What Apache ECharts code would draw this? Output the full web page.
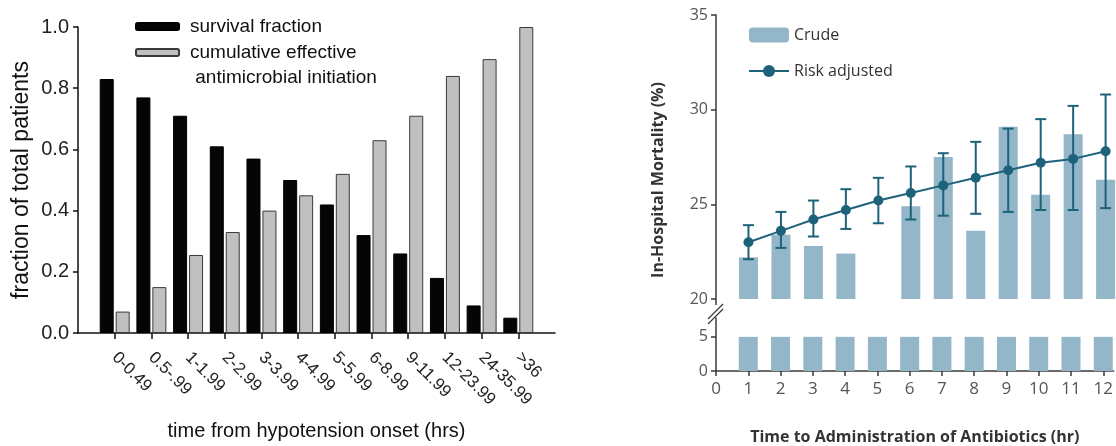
<!DOCTYPE html>
<html>
<head>
<meta charset="utf-8">
<title>Time to antibiotics and mortality</title>
<script src="https://cdn.jsdelivr.net/npm/echarts@6/dist/echarts.min.js"></script>
<style>
  html, body { margin: 0; padding: 0; background: #fff; }
  #chart { width: 1116px; height: 446px; }
</style>
</head>
<body>
<div id="chart"></div>
<script>
// left panel: hypotension onset bins
const onsetBins = ['0-0.49', '0.5-.99', '1-1.99', '2-2.99', '3-3.99', '4-4.99', '5-5.99', '6-8.99', '9-11.99', '12-23.99', '24-35.99', '>36']
const survivalFraction = [0.83, 0.77, 0.71, 0.61, 0.57, 0.5, 0.42, 0.32, 0.26, 0.18, 0.09, 0.05]
const cumulativeInitiation = [0.07, 0.15, 0.255, 0.33, 0.4, 0.45, 0.52, 0.63, 0.71, 0.84, 0.895, 1.0]

// right panel: hours to antibiotics
const hours = [1, 2, 3, 4, 5, 6, 7, 8, 9, 10, 11, 12]
const crudeMortality = [22.2, 23.4, 22.8, 22.4, null, 24.9, 27.5, 23.6, 29.1, 25.5, 28.7, 26.3]
const crudeBelowBreak = [5, 5, 5, 5, 5, 5, 5, 5, 5, 5, 5, 5]
const riskAdjusted = [23.0, 23.6, 24.2, 24.7, 25.2, 25.6, 26.0, 26.4, 26.8, 27.2, 27.4, 27.8]
const riskLow = [22.1, 22.7, 23.3, 23.7, 24.0, 24.2, 24.4, 24.5, 24.6, 24.7, 24.7, 24.8]
const riskHigh = [23.9, 24.6, 25.2, 25.8, 26.4, 27.0, 27.7, 28.3, 29.0, 29.5, 30.2, 30.8]
const hourTicks = [0, 1, 2, 3, 4, 5, 6, 7, 8, 9, 10, 11, 12]
const upperTicks = [20, 25, 30, 35]
const lowerTicks = [0, 5]

const barBlue = '#93b6c8'
const teal = '#1d627a'
const axisGrey = '#3a3a3a'
const leftFont = 'Liberation Sans'
const rightFont = 'Open Sans'

const chart = echarts.init(document.getElementById('chart'))

// padded category list so the first/last bins sit one step in from the axis ends
const leftCats = [''].concat(onsetBins, [''])
const pad = (arr) => [null].concat(arr, [null])

// legend text for the left panel (rich so it can be nudged off the icon)
const legendRich = {
  t: { fontFamily: leftFont, fontSize: 19, color: '#111', lineHeight: 25, padding: [0, 0, 0, 6] },
}

const option = {
  animation: false,
  backgroundColor: '#fff',
  legend: [
    {
      data: ['survival fraction'],
      left: 135, top: 17, padding: 0,
      itemWidth: 43, itemHeight: 7,
      formatter: (name) => '{t|' + name + '}',
      textStyle: { rich: legendRich },
    },
    {
      data: ['cumulative effective antimicrobial initiation'],
      left: 135, top: 18, padding: 0,
      itemWidth: 43, itemHeight: 7,
      // blank first line keeps the icon level with "cumulative effective"
      formatter: () => '{t| }\n{t|cumulative effective}\n{t| antimicrobial initiation}',
      textStyle: { rich: legendRich },
    },
    {
      data: ['Crude', 'Risk adjusted'],
      orient: 'vertical',
      left: 748, top: 27, padding: 0,
      itemWidth: 40, itemHeight: 15, itemGap: 20,
      textStyle: { fontFamily: rightFont, fontSize: 16, color: '#333' },
    },
  ],
  grid: [
    { left: 78, top: 27, width: 477, height: 311 },
    { left: 716, top: 318, right: 0, height: 59 },
    { left: 716, top: 15, right: 0, height: 284 },
  ],
  xAxis: [
    {
      type: 'category', gridIndex: 0, boundaryGap: false, data: leftCats,
      axisLine: { lineStyle: { color: '#111', width: 1.5 } },
      axisTick: { length: 6, interval: (i) => i > 0 && i < leftCats.length - 1, lineStyle: { color: '#111', width: 1.5 } },
      axisLabel: { interval: 0, rotate: -45, margin: 22, fontFamily: leftFont, fontSize: 17, color: '#222' },
      name: 'time from hypotension onset (hrs)', nameLocation: 'middle', nameGap: 88,
      nameTextStyle: { fontFamily: leftFont, fontSize: 20, color: '#111' },
    },
    {
      type: 'value', gridIndex: 1, min: 0, max: 12.32,
      splitLine: { show: false },
      axisLine: { lineStyle: { color: axisGrey, width: 1.5 } },
      axisTick: { length: 5, customValues: hourTicks, lineStyle: { color: axisGrey, width: 1.5 } },
      axisLabel: { customValues: hourTicks, margin: 10, fontFamily: rightFont, fontSize: 17, color: '#555' },
      name: 'Time to Administration of Antibiotics (hr)', nameLocation: 'middle', nameGap: 58,
      nameTextStyle: { fontFamily: rightFont, fontSize: 16, fontWeight: 'bold', color: '#333' },
    },
    { type: 'value', gridIndex: 2, min: 0, max: 12.32, show: false },
  ],
  yAxis: [
    {
      type: 'value', gridIndex: 0, min: 0, max: 1, interval: 0.2,
      splitLine: { show: false },
      axisLine: { show: true, lineStyle: { color: '#111', width: 1.5 } },
      axisTick: { show: true, length: 5, lineStyle: { color: '#111', width: 1.5 } },
      axisLabel: { margin: 9, formatter: (v) => v.toFixed(1), fontFamily: leftFont, fontSize: 20, color: '#222' },
      name: 'fraction of total patients', nameLocation: 'middle', nameGap: 45,
      nameTextStyle: { fontFamily: leftFont, fontSize: 23, color: '#111' },
    },
    {
      type: 'value', gridIndex: 1, min: 0, max: 7.76,
      splitLine: { show: false },
      axisLine: { show: true, lineStyle: { color: axisGrey, width: 1.5 } },
      axisTick: { show: true, length: 5, customValues: lowerTicks, lineStyle: { color: axisGrey, width: 1.5 } },
      axisLabel: { customValues: lowerTicks, margin: 8, fontFamily: rightFont, fontSize: 16, color: '#555' },
    },
    {
      type: 'value', gridIndex: 2, min: 20, max: 35, interval: 5,
      splitLine: { show: false },
      axisLine: { show: true, lineStyle: { color: axisGrey, width: 1.5 } },
      axisTick: { show: true, length: 5, lineStyle: { color: axisGrey, width: 1.5 } },
      axisLabel: { margin: 8, fontFamily: rightFont, fontSize: 16, color: '#555' },
    },
  ],
  series: [
    {
      name: 'survival fraction', type: 'bar', xAxisIndex: 0, yAxisIndex: 0,
      data: pad(survivalFraction), barWidth: 14, barGap: '14%',
      itemStyle: { color: '#050505', borderColor: '#000', borderWidth: 1 },
    },
    {
      name: 'cumulative effective antimicrobial initiation', type: 'bar', xAxisIndex: 0, yAxisIndex: 0,
      data: pad(cumulativeInitiation), barWidth: 14,
      itemStyle: { color: '#c0c0c0', borderColor: '#3a3a3a', borderWidth: 1 },
    },
    {
      name: 'Crude', type: 'bar', xAxisIndex: 1, yAxisIndex: 1,
      data: hours.map((h, i) => [h, crudeBelowBreak[i]]), barWidth: 19,
      itemStyle: { color: barBlue },
    },
    {
      name: 'Crude', type: 'bar', xAxisIndex: 2, yAxisIndex: 2, clip: true,
      data: hours.map((h, i) => [h, crudeMortality[i]]), barWidth: 19,
      itemStyle: { color: barBlue },
    },
    {
      name: 'Risk CI', type: 'custom', xAxisIndex: 2, yAxisIndex: 2, z: 4,
      data: hours.map((h, i) => [h, riskLow[i], riskHigh[i]]),
      encode: { x: 0, y: [1, 2] },
      renderItem: (params, api) => {
        const lo = api.coord([api.value(0), api.value(1)])
        const hi = api.coord([api.value(0), api.value(2)])
        const w = 5.5
        const style = { stroke: teal, lineWidth: 2 }
        return {
          type: 'group',
          children: [
            { type: 'line', shape: { x1: lo[0], y1: lo[1], x2: hi[0], y2: hi[1] }, style },
            { type: 'line', shape: { x1: hi[0] - w, y1: hi[1], x2: hi[0] + w, y2: hi[1] }, style },
            { type: 'line', shape: { x1: lo[0] - w, y1: lo[1], x2: lo[0] + w, y2: lo[1] }, style },
          ],
        }
      },
    },
    {
      name: 'Risk adjusted', type: 'line', xAxisIndex: 2, yAxisIndex: 2, z: 5,
      data: hours.map((h, i) => [h, riskAdjusted[i]]),
      symbol: 'circle', symbolSize: 10,
      lineStyle: { color: teal, width: 2 },
      itemStyle: { color: teal },
    },
  ],
  graphic: [
    // axis break marks on the right panel
    { type: 'line', shape: { x1: 716, y1: 299, x2: 716, y2: 305 }, style: { stroke: axisGrey, lineWidth: 1.5 } },
    { type: 'line', shape: { x1: 708, y1: 319, x2: 723, y2: 304 }, style: { stroke: axisGrey, lineWidth: 1.3 } },
    { type: 'line', shape: { x1: 708, y1: 324, x2: 723, y2: 309 }, style: { stroke: axisGrey, lineWidth: 1.3 } },
    {
      type: 'text', x: 658, y: 180, rotation: Math.PI / 2,
      style: {
        text: 'In-Hospital Mortality (%)', fontFamily: rightFont, fontSize: 16, fontWeight: 'bold',
        fill: '#333', textAlign: 'center', textVerticalAlign: 'middle',
      },
    },
  ],
}

chart.setOption(option)
</script>
</body>
</html>
